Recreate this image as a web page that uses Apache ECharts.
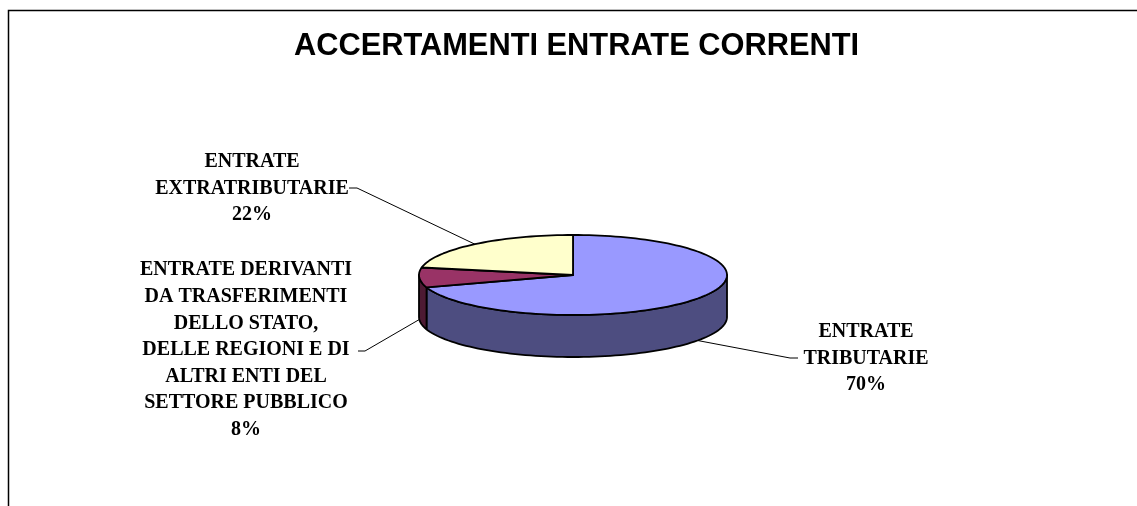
<!DOCTYPE html>
<html>
<head>
<meta charset="utf-8">
<title>Accertamenti entrate correnti</title>
<script src="https://cdn.jsdelivr.net/npm/echarts@6/dist/echarts.min.js"></script>
<style>
  html, body { margin: 0; padding: 0; background: #fff; }
  #chart { width: 1137px; height: 506px; }
</style>
</head>
<body>
<div id="chart"></div>
<script>
// dati
const categories = [
  'ENTRATE TRIBUTARIE',
  'ENTRATE DERIVANTI DA TRASFERIMENTI DELLO STATO, DELLE REGIONI E DI ALTRI ENTI DEL SETTORE PUBBLICO',
  'ENTRATE EXTRATRIBUTARIE'
]
const labelNames = [
  'ENTRATE\nTRIBUTARIE',
  'ENTRATE DERIVANTI\nDA TRASFERIMENTI\nDELLO STATO,\nDELLE REGIONI E DI\nALTRI ENTI DEL\nSETTORE PUBBLICO',
  'ENTRATE\nEXTRATRIBUTARIE'
]
const values = [70, 8, 22]

// stile
const topColors = ['#9999FF', '#993366', '#FFFFCC']
const sideColors = ['#4D4D80', '#4D1A33', '#808066']

// geometria della torta 3D
const CX = 573, CY = 275, RX = 154, RY = 40, DEPTH = 42
// posizione etichette: centro del testo, gomito della linea, fine del tratto
const labelLayout = [
  { x: 866, y: 358.5, elbow: [790, 358], end: [798, 358] },
  { x: 246, y: 350, elbow: [365, 351], end: [358, 351] },
  { x: 252, y: 188.5, elbow: [357, 188], end: [349, 188] }
]

const total = values.reduce((a, b) => a + b, 0)

// angoli (gradi) di inizio/fine, partendo da ore 12 in senso orario
const sliceAngles = (i) => {
  let cum = 0
  for (let k = 0; k < i; k++) cum += values[k]
  const t0 = 90 - 360 * cum / total
  return [t0, t0 - 360 * values[i] / total]
}

const pt = (t, dy) => {
  const r = t * Math.PI / 180
  return [CX + RX * Math.cos(r), CY - RY * Math.sin(r) + (dy || 0)]
}

const arc = (a, b, dy) => {
  const n = Math.max(2, Math.ceil(Math.abs(b - a) / 2))
  const pts = []
  for (let j = 0; j <= n; j++) pts.push(pt(a + (b - a) * j / n, dy))
  return pts
}

const outline = { stroke: '#000', lineWidth: 1.8, lineJoin: 'round' }

const renderSide = (params) => {
  const i = params.dataIndex
  const [t0, t1] = sliceAngles(i)
  const children = []
  for (let k = -1; k <= 1; k++) {
    const lo = Math.max(t1, -180 + 360 * k)
    const hi = Math.min(t0, 360 * k)
    if (hi > lo) {
      children.push({
        type: 'polygon',
        shape: { points: arc(lo, hi, 0).concat(arc(hi, lo, DEPTH)) },
        style: Object.assign({ fill: sideColors[i] }, outline)
      })
    }
  }
  return { type: 'group', children }
}

const renderTop = (params) => {
  const i = params.dataIndex
  const [t0, t1] = sliceAngles(i)
  return {
    type: 'polygon',
    shape: { points: [[CX, CY]].concat(arc(t0, t1, 0)) },
    style: Object.assign({ fill: topColors[i] }, outline)
  }
}

const renderLabel = (params) => {
  const i = params.dataIndex
  const [t0, t1] = sliceAngles(i)
  const mid = (t0 + t1) / 2
  const front = Math.sin(mid * Math.PI / 180) < 0
  const anchor = pt(mid, front ? DEPTH : 0)
  const lay = labelLayout[i]
  const pct = Math.round(values[i] / total * 100) + '%'
  return {
    type: 'group',
    children: [
      {
        type: 'polyline',
        shape: { points: [anchor, lay.elbow, lay.end] },
        style: { stroke: '#000', lineWidth: 1, fill: null }
      },
      {
        type: 'text',
        x: lay.x,
        y: lay.y,
        style: {
          text: labelNames[i] + '\n' + pct,
          fontFamily: '"Liberation Serif", "Times New Roman", serif',
          fontWeight: 'bold',
          fontSize: 20,
          lineHeight: 26.6,
          fill: '#000',
          align: 'center',
          verticalAlign: 'middle'
        }
      }
    ]
  }
}

const seriesData = values.map((v, i) => ({ name: categories[i], value: v }))

const chart = echarts.init(document.getElementById('chart'))

chart.setOption({
  animation: false,
  backgroundColor: '#fff',
  graphic: [
    {
      type: 'polyline',
      shape: { points: [[8.5, 506], [8.5, 10.5], [1137, 10.5]] },
      style: { stroke: '#000', lineWidth: 1.5, fill: null },
      silent: true
    },
    {
      type: 'text',
      x: 576.5,
      y: 47,
      style: {
        text: 'ACCERTAMENTI ENTRATE CORRENTI',
        fontFamily: '"Liberation Sans", Arial, sans-serif',
        fontWeight: 'bold',
        fontSize: 30.8,
        fill: '#000',
        align: 'center',
        verticalAlign: 'middle'
      },
      silent: true
    }
  ],
  series: [
    {
      name: 'lati',
      type: 'custom',
      coordinateSystem: 'none',
      silent: true,
      z: 1,
      renderItem: renderSide,
      data: seriesData
    },
    {
      name: 'etichette',
      type: 'custom',
      coordinateSystem: 'none',
      silent: true,
      z: 2,
      renderItem: renderLabel,
      data: seriesData
    },
    {
      name: 'accertamenti',
      type: 'custom',
      coordinateSystem: 'none',
      silent: true,
      z: 3,
      renderItem: renderTop,
      data: seriesData
    }
  ]
})
</script>
</body>
</html>
